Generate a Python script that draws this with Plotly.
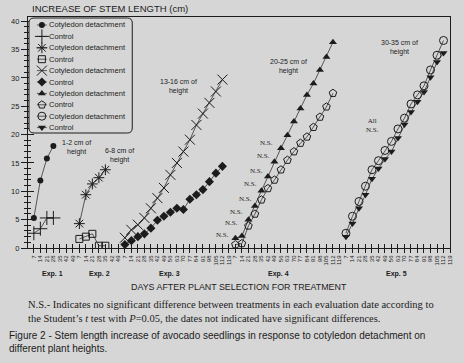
import plotly.graph_objects as go

# ---------------- data ----------------
exp_names = ["Exp. 1", "Exp. 2", "Exp. 3", "Exp. 4", "Exp. 5"]
exp1_ticks = [7, 14, 21, 28, 35, 42, 49]
exp2_ticks = [7, 14, 21, 28, 35, 42, 49]
exp3_ticks = [7, 14, 21, 28, 35, 42, 49, 56, 63, 70, 77, 84, 91, 98, 105, 112, 119]
exp4_ticks = [7, 14, 21, 28, 35, 42, 49, 56, 63, 70, 77, 84, 91, 98, 105, 112, 119]
exp5_ticks = [7, 14, 21, 28, 35, 42, 49, 56, 63, 70, 77, 84, 91, 98, 105, 112, 119]

height_labels = ["1-2 cm of", "6-8 cm of", "13-16 cm of", "20-25 cm of", "30-35 cm of"]

exp1_days = [7, 14, 21, 28]
exp1_cotyledon = [5.3, 11.9, 15.8, 18.0]
exp1_control = [2.6, 3.4, 5.3, 5.3]

exp2_days = [7, 14, 21, 28, 35]
exp2_cotyledon = [4.3, 9.4, 11.3, 12.4, 13.8]
exp2_control = [1.6, 2.0, 2.5, 0.4, 0.4]

exp3_days = [7, 14, 21, 28, 35, 42, 49, 56, 63, 70, 77, 84, 91, 98, 105, 112]
exp3_cotyledon = [1.8, 3.2, 4.1, 5.3, 7.0, 8.8, 10.6, 12.9, 15.0, 17.0, 19.1, 21.7, 23.7, 25.6, 27.6, 29.7]
exp3_control = [0.6, 1.3, 2.0, 2.5, 3.5, 4.9, 5.6, 6.3, 7.0, 6.8, 8.6, 9.4, 10.3, 11.7, 13.2, 14.4]

exp4_days = [7, 14, 21, 28, 35, 42, 49, 56, 63, 70, 77, 84, 91, 98, 105, 112]
exp4_cotyledon = [1.7, 2.1, 5.0, 7.4, 10.1, 12.6, 15.2, 17.6, 19.9, 22.3, 24.6, 27.0, 29.0, 31.4, 33.7, 36.3]
exp4_control = [0.6, 0.8, 3.9, 6.0, 8.5, 10.5, 12.0, 13.8, 15.5, 17.0, 18.5, 19.6, 21.3, 23.1, 24.9, 27.3]

exp5_days = [7, 14, 21, 28, 35, 42, 49, 56, 63, 70, 77, 84, 91, 98, 105, 112]
exp5_cotyledon = [2.6, 5.6, 8.2, 10.9, 13.8, 15.4, 17.2, 18.8, 21.0, 22.9, 25.4, 27.0, 28.6, 31.4, 34.0, 36.6]
exp5_control = [2.0, 4.3, 7.0, 9.4, 12.2, 14.0, 15.7, 17.0, 19.4, 21.8, 24.0, 25.8, 27.5, 30.1, 32.8, 34.4]

y_ticks = [0, 5, 10, 15, 20, 25, 30, 35, 40]

# ---------------- layout helpers ----------------
W, H = 464, 363
L, R, T, B = 28, 453, 17, 248
INK = "#1c1c1c"
BG = "#d6d6d6"
SANS = "Liberation Sans, Arial, sans-serif"
SERIF = "Liberation Serif, Times New Roman, serif"


def pxx(px):
    return (px - L) / (R - L)


def pxy(py):
    return (B - py) / (B - T)


def label(px, py, text, family=SANS, size=7, xanchor="center"):
    return dict(x=pxx(px), y=pxy(py), xref="paper", yref="paper", text=text,
                showarrow=False, xanchor=xanchor, yanchor="middle",
                align=xanchor if xanchor != "center" else "center",
                font=dict(family=family, size=size, color=INK))


tick_lists = [exp1_ticks, exp2_ticks, exp3_ticks, exp4_ticks, exp5_ticks]
offsets = []
acc = 0
for tl in tick_lists:
    offsets.append(acc)
    acc += len(tl)
tick_pos = list(range(acc))
tick_text = [str(d) for tl in tick_lists for d in tl]


def positions(exp_i, days):
    return [offsets[exp_i] + tick_lists[exp_i].index(d) for d in days]


series = [
    # name, exp index, days, values, symbol, size, marker line width
    ("Cotyledon detachment", 0, exp1_days, exp1_cotyledon, "circle", 6, 0),
    ("Control", 0, exp1_days, exp1_control, "cross-thin-open", 10, 1),
    ("Cotyledon detachment", 1, exp2_days, exp2_cotyledon, "asterisk-open", 9, 1),
    ("Control", 1, exp2_days, exp2_control, "square-open", 7, 1),
    ("Cotyledon detachment", 2, exp3_days, exp3_cotyledon, "x-thin-open", 10, 1),
    ("Control", 2, exp3_days, exp3_control, "diamond", 7, 0),
    ("Cotyledon detachment", 3, exp4_days, exp4_cotyledon, "triangle-up", 7, 0),
    ("Control", 3, exp4_days, exp4_control, "pentagon-open", 8, 1),
    ("Cotyledon detachment", 4, exp5_days, exp5_cotyledon, "circle-open", 8, 1),
    ("Control", 4, exp5_days, exp5_control, "triangle-down", 7, 0),
]

fig = go.Figure()

for k, (name, ei, days, vals, sym, size, lw) in enumerate(series):
    on_overlay = (k == len(series) - 1)
    fig.add_trace(go.Scatter(
        x=positions(ei, days), y=vals, mode="lines+markers", name=name,
        line=dict(color="#333333", width=0.8),
        marker=dict(symbol=sym, size=size, color=INK, line=dict(color=INK, width=lw)),
        showlegend=False, hoverinfo="skip",
        xaxis="x2" if on_overlay else "x", yaxis="y2" if on_overlay else "y",
    ))

# ---------------- custom legend ----------------
row_h = 11.4
first_row = 25
box_x0, box_x1, box_y0, box_y1 = 29, 133, 18, 133
for i, (name, ei, days, vals, sym, size, lw) in enumerate(series):
    fig.add_trace(go.Scatter(
        x=[8, 13, 18], y=[i, i, i], mode="lines+markers",
        line=dict(color="#333333", width=0.8),
        marker=dict(symbol=sym, size=size, color=INK, opacity=[0, 1, 0],
                    line=dict(color=INK, width=lw)),
        showlegend=False, hoverinfo="skip", xaxis="x3", yaxis="y3",
    ))

annotations = []
for i, (name, *_rest) in enumerate(series):
    annotations.append(dict(
        x=18.0, y=i, xref="x3", yref="y3", text=name, showarrow=False,
        xanchor="left", yanchor="middle", font=dict(family=SANS, size=7.6, color=INK)))

# rounded legend box
r = 5
x0, x1, y0, y1 = pxx(box_x0), pxx(box_x1), pxy(box_y0), pxy(box_y1)
rx, ry = r / (R - L), r / (B - T)
path = (f"M {x0+rx},{y0} L {x1-rx},{y0} Q {x1},{y0} {x1},{y0-ry} "
        f"L {x1},{y1+ry} Q {x1},{y1} {x1-rx},{y1} L {x0+rx},{y1} "
        f"Q {x0},{y1} {x0},{y1+ry} L {x0},{y0-ry} Q {x0},{y0} {x0+rx},{y0} Z")
shapes = [dict(type="path", path=path, xref="paper", yref="paper",
               line=dict(color=INK, width=1), fillcolor="rgba(0,0,0,0)", layer="above")]

# N.S. marks beside the first Exp. 4 dates (label centres, in pixels)
ns_label_px = [(224, 235), (233, 223), (238, 212), (247, 199),
               (252, 184), (258, 171), (265, 156), (268, 143)]
for (nx, ny) in ns_label_px:
    annotations.append(label(nx, ny, "N.S.", family=SERIF, size=7))

annotations.append(label(375, 125, "All<br>N.S.", family=SERIF, size=7))

# height labels
height_pos = [(77, 147), (120, 155), (180, 86), (290, 66), (402, 47)]
for lab, (hx, hy) in zip(height_labels, height_pos):
    annotations.append(label(hx, hy, f"{lab}<br>height", size=7))

# Exp labels
exp_label_px = [53, 100, 171, 280, 399]
for nm, ex in zip(exp_names, exp_label_px):
    annotations.append(label(ex, 274, f"<b>{nm}</b>", size=7))

# Titles and notes
annotations.append(label(30, 8, "INCREASE OF STEM LENGTH (cm)", size=9.5, xanchor="left"))
annotations.append(label(240, 287, "DAYS AFTER PLANT SELECTION FOR TREATMENT", size=8.9))
annotations.append(label(26, 311,
                         "N.S.- Indicates no significant difference between treatments in each evaluation date according to<br>"
                         "the Student\u2019s <i>t</i> test with <i>P</i>=0.05, the dates not indicated have significant differences.",
                         family=SERIF, size=10.5, xanchor="left"))
annotations.append(label(7, 342,
                         "Figure 2 - Stem length increase of avocado seedlings in response to cotyledon detachment on<br>"
                         "different plant heights.",
                         size=10, xanchor="left"))

axis_common = dict(showgrid=False, zeroline=False)

fig.update_layout(
    width=W, height=H,
    margin=dict(l=L, r=W - R, t=T, b=H - B, pad=0),
    paper_bgcolor=BG, plot_bgcolor=BG,
    showlegend=False,
    xaxis=dict(range=[-0.9, 64.0], tickmode="array", tickvals=tick_pos, ticktext=tick_text,
               tickangle=-90, ticks="outside", ticklen=4, tickwidth=1, tickcolor=INK,
               showline=True, linecolor=INK, linewidth=1.2, mirror=True,
               tickfont=dict(family=SANS, size=6, color=INK), **axis_common),
    xaxis2=dict(overlaying="x", matches="x", anchor="y2", tickmode="array", tickvals=tick_pos,
                ticks="inside", ticklen=4, tickwidth=1, tickcolor=INK, showticklabels=False,
                showline=False, **axis_common),
    yaxis=dict(range=[0, (B - T) / 5.67], tickmode="array", tickvals=y_ticks,
               ticks="outside", ticklen=6, tickwidth=1, tickcolor=INK,
               minor=dict(dtick=1, tick0=0, ticks="outside", ticklen=3, tickwidth=1, tickcolor=INK, showgrid=False),
               showline=True, linecolor=INK, linewidth=1.2, mirror=True,
               tickfont=dict(family=SANS, size=7.5, color=INK), **axis_common),
    yaxis2=dict(overlaying="y", matches="y", anchor="x2", side="left", tickmode="array", tickvals=y_ticks,
                ticks="inside", ticklen=6, tickwidth=1, tickcolor=INK,
                minor=dict(dtick=1, tick0=0, ticks="inside", ticklen=3, tickwidth=1, tickcolor=INK, showgrid=False),
                showticklabels=False, showline=False, **axis_common),
    xaxis3=dict(domain=[pxx(box_x0), pxx(box_x1)], range=[0, box_x1 - box_x0], anchor="y3",
                visible=False, **axis_common),
    yaxis3=dict(domain=[pxy(box_y1), pxy(box_y0)],
                range=[(box_y1 - first_row) / row_h, (box_y0 - first_row) / row_h],
                anchor="x3", visible=False, **axis_common),
    annotations=annotations,
    shapes=shapes,
)

fig.write_html("out.html", config={"displayModeBar": False},
               post_script="document.body.style.margin='0';document.body.style.background='%s';" % BG)
